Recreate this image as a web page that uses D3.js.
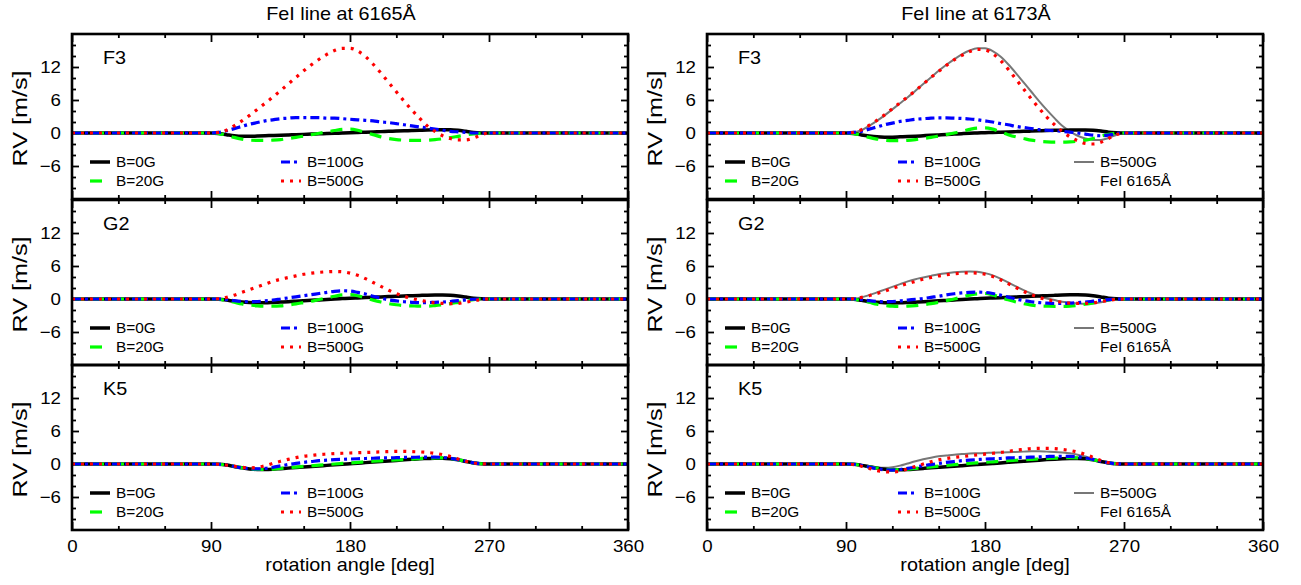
<!DOCTYPE html>
<html>
<head>
<meta charset="utf-8">
<script src="https://cdn.jsdelivr.net/npm/d3@7"></script>
<style>
  body { margin: 0; background: #fff; }
  svg { display: block; }
  text { font-family: "Liberation Sans", Arial, Helvetica, sans-serif; fill: #000; }
</style>
</head>
<body>
<div id="chart"></div>
<script>
// rotation angles (deg) shared by every curve
const angles = [0, 90, 95, 100, 105, 110, 115, 120, 125, 130, 135, 140, 145, 150, 155, 160,
  165, 170, 175, 180, 185, 190, 195, 200, 205, 210, 215, 220, 225, 230, 235, 240, 245,
  250, 255, 260, 265, 270, 360];

const lineTitles = ["FeI line at 6165Å", "FeI line at 6173Å"];
const starTypes = ["F3", "G2", "K5"];
const fieldLabels = ["B=0G", "B=20G", "B=100G", "B=500G"];
const xTicks = [0, 90, 180, 270, 360];
const xMinor = [30, 60, 120, 150, 210, 240, 300, 330];
const yTicks = [-6, 0, 6, 12];
const yMinor = [-10, -8, -4, -2, 2, 4, 8, 10, 14, 16];

// FeI 6165 A, F3
const f3_6165_b0 = [0, 0, -0.1, -0.3, -0.5, -0.6, -0.6, -0.55, -0.5, -0.45, -0.4, -0.35, -0.3, -0.25, -0.2, -0.15,
  -0.1, -0.05, 0, 0.05, 0.1, 0.15, 0.2, 0.25, 0.3, 0.35, 0.4, 0.45, 0.5, 0.55, 0.58, 0.6, 0.6,
  0.5, 0.3, 0.1, 0.02, 0, 0];
const f3_6165_b20 = [0, 0, -0.1, -0.4, -0.8, -1.1, -1.3, -1.35, -1.35, -1.3, -1.2, -1.0, -0.8, -0.55, -0.3, -0.05,
  0.2, 0.45, 0.65, 0.7, 0.5, 0.1, -0.3, -0.7, -1.0, -1.2, -1.3, -1.35, -1.35, -1.3, -1.2, -1.05, -0.85,
  -0.6, -0.35, -0.15, -0.05, 0, 0];
const f3_6165_b100 = [0, 0, 0.1, 0.4, 0.8, 1.2, 1.6, 1.9, 2.2, 2.4, 2.6, 2.7, 2.8, 2.8, 2.8, 2.8,
  2.7, 2.7, 2.6, 2.5, 2.4, 2.3, 2.2, 2.0, 1.9, 1.7, 1.5, 1.3, 1.1, 0.9, 0.7, 0.5, 0.3,
  0.2, 0.1, 0, 0, 0, 0];
const f3_6165_b500 = [0, 0, 0.1, 0.5, 1.3, 2.2, 3.2, 4.3, 5.4, 6.5, 7.7, 8.9, 10.1, 11.3, 12.4, 13.4,
  14.3, 15.0, 15.4, 15.4, 14.9, 13.9, 12.5, 10.9, 9.2, 7.5, 5.8, 4.2, 2.7, 1.3, 0.3, -0.5, -1.0,
  -1.25, -1.25, -0.9, -0.35, 0, 0];

// FeI 6173 A, F3
const f3_6173_b0 = [0, 0, -0.1, -0.35, -0.55, -0.7, -0.75, -0.75, -0.7, -0.65, -0.58, -0.5, -0.42, -0.35, -0.28, -0.2,
  -0.12, -0.05, 0, 0.05, 0.1, 0.15, 0.2, 0.25, 0.3, 0.35, 0.4, 0.45, 0.48, 0.5, 0.53, 0.55, 0.55,
  0.5, 0.35, 0.15, 0.05, 0, 0];
const f3_6173_b20 = [0, 0, -0.1, -0.4, -0.8, -1.1, -1.3, -1.4, -1.4, -1.35, -1.2, -1.0, -0.8, -0.55, -0.3, 0,
  0.3, 0.65, 0.9, 0.95, 0.7, 0.2, -0.3, -0.7, -1.0, -1.3, -1.5, -1.6, -1.65, -1.65, -1.6, -1.5, -1.3,
  -1.0, -0.6, -0.25, -0.05, 0, 0];
const f3_6173_b100 = [0, 0, 0.1, 0.3, 0.7, 1.1, 1.5, 1.8, 2.1, 2.3, 2.5, 2.6, 2.7, 2.75, 2.75, 2.7,
  2.65, 2.55, 2.4, 2.2, 2.0, 1.7, 1.5, 1.2, 1.0, 0.8, 0.6, 0.5, 0.4, 0.3, 0.15, 0, -0.2,
  -0.4, -0.5, -0.4, -0.1, 0, 0];
const f3_6173_b500 = [0, 0, 0.1, 0.6, 1.4, 2.3, 3.3, 4.4, 5.5, 6.6, 7.7, 8.9, 10.1, 11.2, 12.3, 13.3,
  14.1, 14.8, 15.2, 15.1, 14.4, 13.2, 11.6, 9.8, 8.0, 6.2, 4.5, 2.9, 1.5, 0.3, -0.7, -1.4, -1.9,
  -2.0, -1.7, -1.0, -0.3, 0, 0];

// FeI 6165 A, G2
const g2_6165_b0 = [0, 0, -0.05, -0.2, -0.4, -0.55, -0.65, -0.7, -0.68, -0.62, -0.55, -0.48, -0.4, -0.32, -0.24, -0.16,
  -0.08, 0, 0.07, 0.14, 0.2, 0.26, 0.32, 0.38, 0.44, 0.5, 0.55, 0.6, 0.65, 0.7, 0.72, 0.72, 0.68,
  0.55, 0.35, 0.15, 0.04, 0, 0];
const g2_6165_b20 = [0, 0, -0.05, -0.3, -0.6, -0.9, -1.1, -1.25, -1.3, -1.3, -1.25, -1.1, -0.9, -0.65, -0.4, -0.1,
  0.2, 0.5, 0.75, 0.8, 0.6, 0.2, -0.2, -0.55, -0.85, -1.05, -1.2, -1.25, -1.3, -1.3, -1.2, -1.05, -0.85,
  -0.6, -0.35, -0.1, 0, 0, 0];
const g2_6165_b100 = [0, 0, 0, -0.1, -0.3, -0.45, -0.5, -0.45, -0.35, -0.2, 0, 0.2, 0.4, 0.6, 0.8, 1.0,
  1.2, 1.4, 1.5, 1.45, 1.2, 0.9, 0.5, 0.15, -0.15, -0.35, -0.5, -0.6, -0.65, -0.65, -0.6, -0.55, -0.45,
  -0.3, -0.15, -0.05, 0, 0, 0];
const g2_6165_b500 = [0, 0, 0.05, 0.3, 0.7, 1.2, 1.7, 2.2, 2.7, 3.2, 3.6, 3.9, 4.2, 4.5, 4.7, 4.85,
  4.95, 5.0, 4.95, 4.7, 4.3, 3.7, 3.0, 2.3, 1.6, 1.0, 0.5, 0.1, -0.2, -0.5, -0.7, -0.8, -0.85,
  -0.8, -0.6, -0.3, -0.1, 0, 0];

// FeI 6173 A, G2
const g2_6173_b0 = [0, 0, -0.05, -0.25, -0.45, -0.6, -0.7, -0.72, -0.7, -0.64, -0.57, -0.5, -0.42, -0.34, -0.26, -0.18,
  -0.1, -0.02, 0.05, 0.12, 0.18, 0.24, 0.3, 0.36, 0.42, 0.48, 0.54, 0.6, 0.66, 0.72, 0.76, 0.78, 0.74,
  0.6, 0.38, 0.16, 0.04, 0, 0];
const g2_6173_b20 = [0, 0, -0.05, -0.3, -0.6, -0.95, -1.15, -1.3, -1.35, -1.3, -1.2, -1.05, -0.85, -0.6, -0.3, 0,
  0.35, 0.7, 0.95, 1.0, 0.75, 0.3, -0.15, -0.55, -0.85, -1.1, -1.25, -1.3, -1.35, -1.35, -1.3, -1.15, -0.95,
  -0.7, -0.4, -0.15, -0.03, 0, 0];
const g2_6173_b100 = [0, 0, 0, -0.1, -0.3, -0.45, -0.5, -0.45, -0.35, -0.2, -0.05, 0.1, 0.3, 0.5, 0.75, 0.95,
  1.1, 1.2, 1.25, 1.2, 1.0, 0.7, 0.35, 0, -0.3, -0.5, -0.65, -0.75, -0.8, -0.8, -0.75, -0.65, -0.55,
  -0.4, -0.25, -0.1, -0.02, 0, 0];
const g2_6173_b500 = [0, 0, 0.05, 0.3, 0.6, 1.0, 1.4, 1.9, 2.4, 2.8, 3.2, 3.6, 3.9, 4.2, 4.4, 4.6,
  4.7, 4.75, 4.7, 4.5, 4.1, 3.5, 2.8, 2.1, 1.4, 0.8, 0.3, -0.1, -0.4, -0.6, -0.75, -0.8, -0.8,
  -0.7, -0.5, -0.25, -0.05, 0, 0];

// FeI 6165 A, K5
const k5_6165_b0 = [0, 0, -0.05, -0.2, -0.45, -0.7, -0.9, -1.0, -1.0, -0.95, -0.85, -0.75, -0.65, -0.55, -0.45, -0.35,
  -0.25, -0.15, -0.05, 0.05, 0.15, 0.25, 0.35, 0.45, 0.55, 0.65, 0.75, 0.85, 0.95, 1.0, 1.05, 1.05, 0.95,
  0.75, 0.45, 0.2, 0.05, 0, 0];
const k5_6165_b20 = [0, 0, -0.05, -0.2, -0.45, -0.7, -0.9, -1.0, -1.0, -0.92, -0.8, -0.68, -0.56, -0.44, -0.32, -0.2,
  -0.1, 0, 0.1, 0.2, 0.3, 0.4, 0.5, 0.58, 0.66, 0.74, 0.82, 0.9, 0.98, 1.05, 1.1, 1.1, 1.0,
  0.8, 0.5, 0.2, 0.05, 0, 0];
const k5_6165_b100 = [0, 0, -0.05, -0.2, -0.45, -0.7, -0.85, -0.9, -0.8, -0.6, -0.35, -0.1, 0.1, 0.3, 0.45, 0.6,
  0.7, 0.8, 0.85, 0.9, 0.95, 1.0, 1.05, 1.1, 1.1, 1.15, 1.2, 1.2, 1.25, 1.25, 1.25, 1.2, 1.05,
  0.8, 0.5, 0.2, 0.05, 0, 0];
const k5_6165_b500 = [0, 0, -0.05, -0.2, -0.4, -0.6, -0.7, -0.6, -0.3, 0.1, 0.5, 0.85, 1.15, 1.4, 1.55, 1.7,
  1.8, 1.9, 1.95, 2.0, 2.05, 2.1, 2.15, 2.2, 2.25, 2.3, 2.3, 2.25, 2.2, 2.1, 1.95, 1.7, 1.35,
  0.9, 0.5, 0.2, 0.05, 0, 0];

// FeI 6173 A, K5
const k5_6173_b0 = [0, 0, -0.05, -0.25, -0.5, -0.75, -0.95, -1.05, -1.05, -1.0, -0.9, -0.8, -0.7, -0.6, -0.5, -0.4,
  -0.3, -0.2, -0.1, 0, 0.1, 0.2, 0.3, 0.4, 0.5, 0.6, 0.7, 0.8, 0.88, 0.95, 1.0, 1.02, 0.95,
  0.75, 0.45, 0.2, 0.05, 0, 0];
const k5_6173_b20 = [0, 0, -0.05, -0.25, -0.5, -0.75, -0.95, -1.05, -1.0, -0.92, -0.8, -0.66, -0.52, -0.38, -0.25, -0.12,
  0, 0.1, 0.2, 0.3, 0.4, 0.5, 0.6, 0.68, 0.76, 0.84, 0.92, 1.0, 1.06, 1.12, 1.15, 1.12, 1.0,
  0.8, 0.5, 0.2, 0.05, 0, 0];
const k5_6173_b100 = [0, 0, -0.05, -0.25, -0.55, -0.85, -1.05, -1.1, -1.0, -0.8, -0.55, -0.3, -0.1, 0.1, 0.3, 0.45,
  0.6, 0.7, 0.8, 0.9, 0.95, 1.0, 1.1, 1.15, 1.2, 1.25, 1.3, 1.35, 1.4, 1.4, 1.38, 1.3, 1.1,
  0.85, 0.5, 0.2, 0.05, 0, 0];
const k5_6173_b500 = [0, 0, -0.1, -0.4, -0.8, -1.2, -1.4, -1.45, -1.3, -0.9, -0.45, 0, 0.4, 0.75, 1.0, 1.2,
  1.35, 1.5, 1.65, 1.8, 1.95, 2.1, 2.3, 2.5, 2.65, 2.8, 2.85, 2.85, 2.8, 2.65, 2.45, 2.15, 1.75,
  1.2, 0.65, 0.25, 0.05, 0, 0];

const panelSeries = [
  [[f3_6165_b0, f3_6165_b20, f3_6165_b100, f3_6165_b500],
   [g2_6165_b0, g2_6165_b20, g2_6165_b100, g2_6165_b500],
   [k5_6165_b0, k5_6165_b20, k5_6165_b100, k5_6165_b500]],
  [[f3_6173_b0, f3_6173_b20, f3_6173_b100, f3_6173_b500],
   [g2_6173_b0, g2_6173_b20, g2_6173_b100, g2_6173_b500],
   [k5_6173_b0, k5_6173_b20, k5_6173_b100, k5_6173_b500]]
];

// look of the four field strengths, plus the grey 6165 reference curve
const styles = [
  { color: "#000000", width: 3.5, dash: null },
  { color: "#00ff00", width: 3.2, dash: "12,8" },
  { color: "#0000ff", width: 3.2, dash: "9,4,3,4" },
  { color: "#ff0000", width: 3.2, dash: "3,6" }
];
const refStyle = { color: "#777777", width: 2, dash: null };

const stretch = 1.1;
const plotW = 556, plotH = 165;
const colX = [72, 707];
const rowY = [34, 200, 365];

const svg = d3.select("#chart").append("svg")
  .attr("width", 1301)
  .attr("height", 585);

function label(g, x, y, s, size, anchor, rotate) {
  const tf = rotate
    ? `translate(${x},${y}) rotate(-90) scale(1.2,1)`
    : `translate(${x},${y}) scale(${stretch},1)`;
  return g.append("text")
    .attr("transform", tf)
    .attr("text-anchor", anchor)
    .attr("font-size", size)
    .text(s);
}

function legendItem(g, x, y, style, s) {
  if (style) {
    g.append("line")
      .attr("x1", x).attr("x2", x + 20)
      .attr("y1", y).attr("y2", y)
      .attr("stroke", style.color)
      .attr("stroke-width", style.width)
      .attr("stroke-dasharray", style.dash);
  }
  label(g, x + 26, y + 5, s, 14, "start");
}

panelSeries.forEach((col, c) => {
  const x0 = colX[c];
  label(svg, x0 + plotW / 2 - 9, 20, lineTitles[c], 18, "middle");

  col.forEach((series, r) => {
    const top = rowY[r];
    const g = svg.append("g");
    const x = d3.scaleLinear().domain([0, 360]).range([x0, x0 + plotW]);
    const y = d3.scaleLinear().domain([-12, 18]).range([top + plotH, top]);

    const clipId = `clip-${c}-${r}`;
    svg.append("clipPath").attr("id", clipId)
      .append("rect").attr("x", x0).attr("y", top).attr("width", plotW).attr("height", plotH);

    // axes: ticks on every side, pointing inwards
    g.append("g").attr("transform", `translate(0,${top + plotH})`)
      .call(d3.axisBottom(x).tickValues(xTicks).tickSize(-8).tickPadding(10)
        .tickFormat(r === 2 ? d3.format("d") : ""));
    g.append("g").attr("transform", `translate(0,${top + plotH})`)
      .call(d3.axisBottom(x).tickValues(xMinor).tickSize(-4).tickFormat(""));
    g.append("g").attr("transform", `translate(0,${top})`)
      .call(d3.axisTop(x).tickValues(xTicks).tickSize(-8).tickFormat(""));
    g.append("g").attr("transform", `translate(0,${top})`)
      .call(d3.axisTop(x).tickValues(xMinor).tickSize(-4).tickFormat(""));
    const left = g.append("g").attr("transform", `translate(${x0},0)`)
      .call(d3.axisLeft(y).tickValues(yTicks).tickSize(-7).tickPadding(11).tickFormat(d3.format("d")));
    g.append("g").attr("transform", `translate(${x0},0)`)
      .call(d3.axisLeft(y).tickValues(yMinor).tickSize(-4).tickFormat(""));
    g.append("g").attr("transform", `translate(${x0 + plotW},0)`)
      .call(d3.axisRight(y).tickValues(yTicks).tickSize(-7).tickFormat(""));
    g.append("g").attr("transform", `translate(${x0 + plotW},0)`)
      .call(d3.axisRight(y).tickValues(yMinor).tickSize(-4).tickFormat(""));

    g.selectAll(".domain").remove();
    g.selectAll(".tick line").attr("stroke", "#000").attr("stroke-width", 1.8);
    g.selectAll(".tick text")
      .attr("font-family", "Liberation Sans, Arial, sans-serif")
      .attr("font-size", 17)
      .attr("fill", "#000")
      .attr("transform", `scale(${stretch},1)`);
    left.selectAll(".tick text").attr("x", -11 / stretch);

    const line = d3.line()
      .x((d, i) => x(angles[i]))
      .y(d => y(d))
      .curve(d3.curveMonotoneX);

    const curves = g.append("g").attr("clip-path", `url(#${clipId})`);
    if (c === 1) {
      curves.append("path")
        .attr("d", line(panelSeries[0][r][3]))
        .attr("fill", "none")
        .attr("stroke", refStyle.color)
        .attr("stroke-width", refStyle.width);
    }
    series.forEach((vals, k) => {
      curves.append("path")
        .attr("d", line(vals))
        .attr("fill", "none")
        .attr("stroke", styles[k].color)
        .attr("stroke-width", styles[k].width)
        .attr("stroke-dasharray", styles[k].dash);
    });

    // frame
    g.append("rect")
      .attr("x", x0).attr("y", top)
      .attr("width", plotW).attr("height", plotH)
      .attr("fill", "none")
      .attr("stroke", "#000")
      .attr("stroke-width", 2.6);

    label(g, x0 + 31, top + 30, starTypes[r], 18, "start");
    label(g, x0 - 52, top + plotH / 2 + 2, "RV [m/s]", 21, "middle", true)
      .attr("dy", "0.35em");

    // legend
    const row1 = top + 128, row2 = top + 147;
    const col2 = c === 0 ? 209 : 191;
    legendItem(g, x0 + 18, row1, styles[0], fieldLabels[0]);
    legendItem(g, x0 + 18, row2, styles[1], fieldLabels[1]);
    legendItem(g, x0 + col2, row1, styles[2], fieldLabels[2]);
    legendItem(g, x0 + col2, row2, styles[3], fieldLabels[3]);
    if (c === 1) {
      legendItem(g, x0 + 367, row1, refStyle, fieldLabels[3]);
      legendItem(g, x0 + 367, row2, null, "FeI 6165Å");
    }

    if (r === 2) {
      label(g, x0 + plotW / 2, 571, "rotation angle [deg]", 18, "middle");
    }
  });
});
</script>
</body>
</html>
